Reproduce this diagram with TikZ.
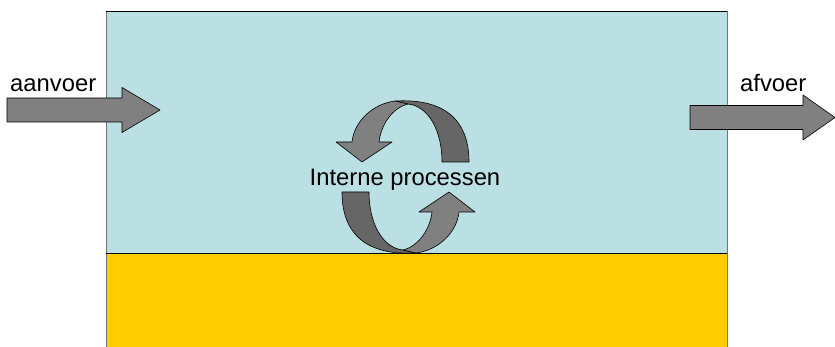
\documentclass[tikz,border=0pt]{standalone}
\usepackage{fontspec}
\setmainfont{Liberation Sans}
\definecolor{water}{RGB}{187,224,227}
\definecolor{bodem}{RGB}{255,204,0}
\definecolor{pijl}{RGB}{128,128,128}
\definecolor{pijldonker}{RGB}{102,102,102}
\newcommand\kringpijl{%
 \draw[arr, fill=pijldonker] (395,101) .. controls (450,98) and (469,125) .. (469,162) -- (442,162) .. controls (442,130) and (428,106) .. (408,104) -- cycle;
 \draw[arr] (395,101) .. controls (372,104) and (354,122) .. (352,142) -- (336,142) -- (362,162) -- (392,142) -- (379,142) .. controls (381,125) and (392,108) .. (408,104) -- cycle;
}
\begin{document}
\begin{tikzpicture}[x=1pt,y=-1pt, line join=round,
  lbl/.style={font=\fontsize{23.8}{28}\selectfont, inner sep=0pt},
  arr/.style={fill=pijl, draw=black, line width=0.6pt}]
\useasboundingbox (0,0) rectangle (835,347);
\fill[water] (106,11) rectangle (727,253);
\fill[bodem] (106,253) rectangle (727,347);
\draw[line width=1pt, black!55] (106,347) -- (106,11);
\draw[line width=1pt, black!55] (727,11) -- (727,347);
\draw[line width=0.8pt] (106,11) -- (727,11);
\draw[line width=0.8pt] (106,253) -- (727,253);
% in- and outflow arrows
\draw[arr] (7,98) -- (122,98) -- (122,87.5) -- (160,110) -- (122,132.5) -- (122,122) -- (7,122) -- cycle;
\draw[arr] (690,105.5) -- (803,105.5) -- (803,95) -- (835,117.5) -- (803,140) -- (803,129.5) -- (690,129.5) -- cycle;
% circular arrows
\kringpijl
\begin{scope}[rotate around={180:(405.5,177)}]
\kringpijl
\end{scope}
% labels
\node[lbl, anchor=base west] (aanvoer) at (10,92) {aanvoer};
\node[lbl, anchor=base west] (afvoer) at (740,92) {afvoer};
\node[lbl, anchor=base] (intern) at (405,186) {Interne processen};
\end{tikzpicture}
\end{document}
